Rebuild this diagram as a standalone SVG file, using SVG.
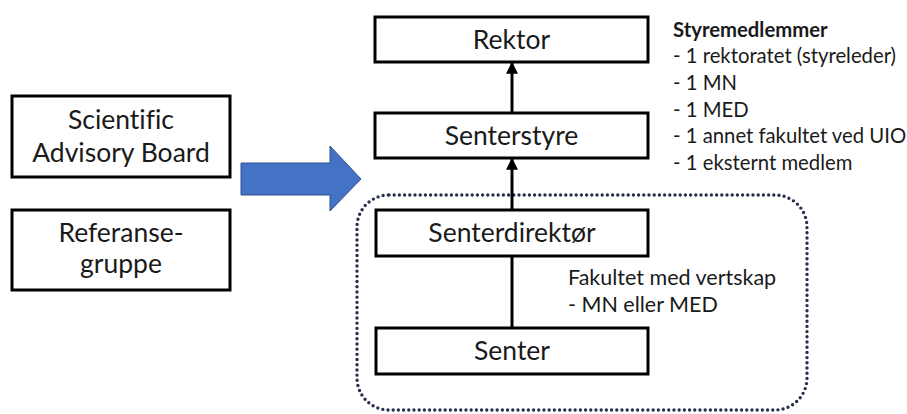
<svg xmlns="http://www.w3.org/2000/svg" width="907" height="414" viewBox="0 0 907 414">
<defs>
<style>
.box{fill:#fff;stroke:#000;stroke-width:3}
.lbl{font-family:Lato,"Open Sans","Liberation Sans",sans-serif;font-size:26.5px;fill:#1a1a1a;text-anchor:middle;font-variant-ligatures:none}
.txt{font-family:Lato,"Open Sans","Liberation Sans",sans-serif;font-size:20.3px;fill:#1a1a1a}
.txt2{font-family:Lato,"Open Sans","Liberation Sans",sans-serif;font-size:21.5px;fill:#1a1a1a}
.conn{stroke:#000;stroke-width:3;fill:none}
</style>
<marker id="ah" viewBox="0 0 10 10" refX="9" refY="5" markerWidth="4" markerHeight="4" orient="auto">
<path d="M0,0 L10,5 L0,10 z" fill="#000"/>
</marker>
</defs>
<rect width="907" height="414" fill="#fff"/>
<g id="host-group">
<rect x="357" y="195" width="450" height="215" rx="32" ry="32" fill="none" stroke="#26304a" stroke-width="3.4" stroke-dasharray="0 5.2" stroke-linecap="round"/>
</g>
<g id="connectors">
<line class="conn" x1="512" y1="113" x2="512" y2="63" marker-end="url(#ah)"/>
<line class="conn" x1="512" y1="210" x2="512" y2="159" marker-end="url(#ah)"/>
<line class="conn" x1="512" y1="257" x2="512" y2="328"/>
<path d="M241,163 H330 V146 L361,179 L330,211 V195 H241 Z" fill="#4472c4" stroke="#2f528f" stroke-width="1"/>
</g>
<g id="rektor">
<rect class="box" x="375" y="17" width="273" height="45"/>
<text class="lbl" x="511.5" y="48.5">Rektor</text>
</g>
<g id="senterstyre">
<rect class="box" x="375" y="113" width="273" height="45"/>
<text class="lbl" x="511.5" y="144.5">Senterstyre</text>
</g>
<g id="senterdirektor">
<rect class="box" x="376" y="210" width="272" height="46"/>
<text class="lbl" x="512" y="242">Senterdirektør</text>
</g>
<g id="senter">
<rect class="box" x="376" y="328" width="272" height="46"/>
<text class="lbl" x="512" y="360">Senter</text>
</g>
<g id="sab">
<rect class="box" x="12" y="96" width="218" height="81"/>
<text class="lbl" x="121" y="129">Scientific</text>
<text class="lbl" x="121" y="162">Advisory Board</text>
</g>
<g id="referansegruppe">
<rect class="box" x="12" y="210" width="218" height="80"/>
<text class="lbl" x="121" y="242">Referanse-</text>
<text class="lbl" x="121" y="273">gruppe</text>
</g>
<g id="styremedlemmer">
<text class="txt" x="673" y="37" font-weight="bold">Styremedlemmer</text>
<text class="txt" x="673" y="63">- 1 rektoratet (styreleder)</text>
<text class="txt" x="673" y="90">- 1 MN</text>
<text class="txt" x="673" y="117">- 1 MED</text>
<text class="txt" x="673" y="143">- 1 annet fakultet ved UIO</text>
<text class="txt" x="673" y="170">- 1 eksternt medlem</text>
</g>
<g id="vertskap">
<text class="txt2" x="568" y="285">Fakultet med vertskap</text>
<text class="txt2" x="568" y="312">- MN eller MED</text>
</g>
</svg>
